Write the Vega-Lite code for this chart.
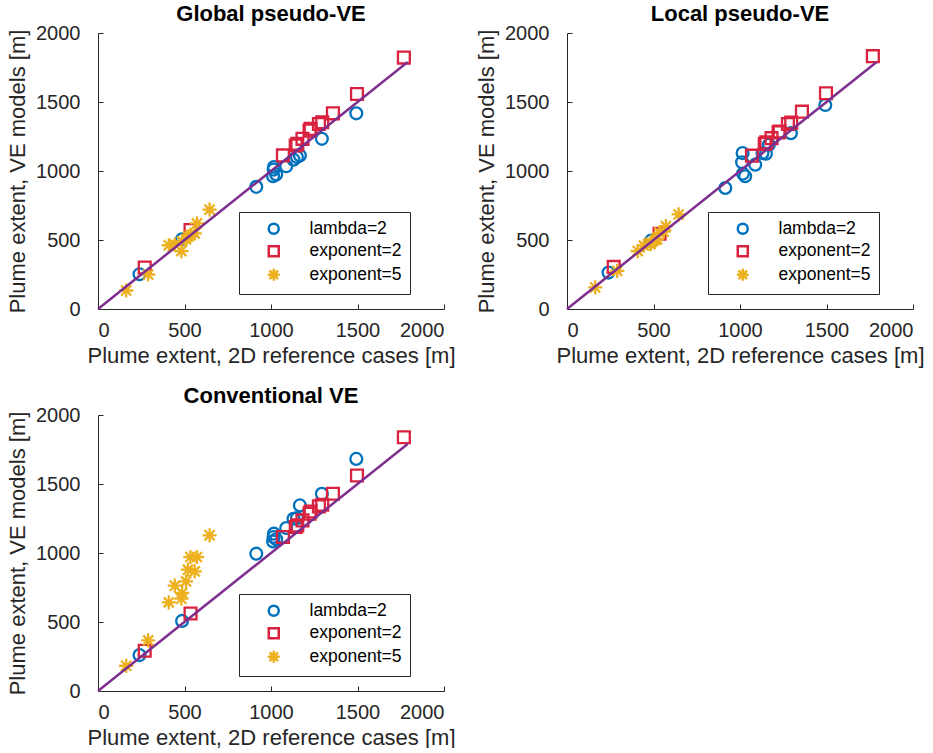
{
  "$schema": "https://vega.github.io/schema/vega-lite/v6.json",
  "background": "white",
  "padding": {"top": 3, "left": 6, "right": 5, "bottom": 0},
  "config": {
    "font": "Liberation Sans",
    "view": {"stroke": null},
    "axis": {"grid": false, "domainColor": "#262626", "tickColor": "#262626", "labelColor": "#262626", "titleColor": "#262626", "labelFontSize": 20, "titleFontSize": 22, "titleFontWeight": "normal", "tickSize": -5, "domainWidth": 1, "labelFont": "Liberation Sans", "titleFont": "Liberation Sans", "format": "d"},
    "axisX": {"labelPadding": 16, "titlePadding": 5},
    "axisY": {"labelPadding": 23, "titlePadding": 6},
    "title": {"fontSize": 22, "fontWeight": "bold", "offset": -3, "color": "black", "font": "Liberation Sans"},
    "legend": {"orient": "none", "legendX": 141, "legendY": 179, "strokeColor": "#262626", "fillColor": "white", "padding": 8, "labelFontSize": 17.5, "labelColor": "black", "symbolOffset": 18, "labelOffset": 27, "rowPadding": 1.5, "symbolStrokeWidth": 2.5, "symbolSize": 100, "title": null, "labelFont": "Liberation Sans"}
  },
  "datasets": {
    "line": [{"x": 0, "y": 0}, {"x": 1790, "y": 1790}],
    "pts": [
      {"p": "Global", "s": "lambda=2", "x": 240, "y": 252},
      {"p": "Global", "s": "lambda=2", "x": 486, "y": 505},
      {"p": "Global", "s": "lambda=2", "x": 915, "y": 885},
      {"p": "Global", "s": "lambda=2", "x": 1012, "y": 962},
      {"p": "Global", "s": "lambda=2", "x": 1015, "y": 1010},
      {"p": "Global", "s": "lambda=2", "x": 1017, "y": 1029},
      {"p": "Global", "s": "lambda=2", "x": 1030, "y": 975},
      {"p": "Global", "s": "lambda=2", "x": 1088, "y": 1034},
      {"p": "Global", "s": "lambda=2", "x": 1130, "y": 1082},
      {"p": "Global", "s": "lambda=2", "x": 1150, "y": 1101},
      {"p": "Global", "s": "lambda=2", "x": 1167, "y": 1113},
      {"p": "Global", "s": "lambda=2", "x": 1294, "y": 1233},
      {"p": "Global", "s": "lambda=2", "x": 1493, "y": 1418},
      {"p": "Global", "s": "exponent=2", "x": 270, "y": 300},
      {"p": "Global", "s": "exponent=2", "x": 535, "y": 572},
      {"p": "Global", "s": "exponent=2", "x": 1069, "y": 1113},
      {"p": "Global", "s": "exponent=2", "x": 1143, "y": 1185},
      {"p": "Global", "s": "exponent=2", "x": 1152, "y": 1197},
      {"p": "Global", "s": "exponent=2", "x": 1182, "y": 1233},
      {"p": "Global", "s": "exponent=2", "x": 1223, "y": 1293},
      {"p": "Global", "s": "exponent=2", "x": 1229, "y": 1305},
      {"p": "Global", "s": "exponent=2", "x": 1277, "y": 1341},
      {"p": "Global", "s": "exponent=2", "x": 1296, "y": 1353},
      {"p": "Global", "s": "exponent=2", "x": 1358, "y": 1418},
      {"p": "Global", "s": "exponent=2", "x": 1497, "y": 1558},
      {"p": "Global", "s": "exponent=2", "x": 1768, "y": 1822},
      {"p": "Global", "s": "exponent=5", "x": 163, "y": 134},
      {"p": "Global", "s": "exponent=5", "x": 290, "y": 250},
      {"p": "Global", "s": "exponent=5", "x": 409, "y": 462},
      {"p": "Global", "s": "exponent=5", "x": 444, "y": 466},
      {"p": "Global", "s": "exponent=5", "x": 482, "y": 420},
      {"p": "Global", "s": "exponent=5", "x": 486, "y": 490},
      {"p": "Global", "s": "exponent=5", "x": 509, "y": 505},
      {"p": "Global", "s": "exponent=5", "x": 520, "y": 524},
      {"p": "Global", "s": "exponent=5", "x": 534, "y": 536},
      {"p": "Global", "s": "exponent=5", "x": 559, "y": 548},
      {"p": "Global", "s": "exponent=5", "x": 572, "y": 620},
      {"p": "Global", "s": "exponent=5", "x": 645, "y": 720},
      {"p": "Local", "s": "lambda=2", "x": 240, "y": 264},
      {"p": "Local", "s": "lambda=2", "x": 486, "y": 495},
      {"p": "Local", "s": "lambda=2", "x": 915, "y": 877},
      {"p": "Local", "s": "lambda=2", "x": 1012, "y": 1063},
      {"p": "Local", "s": "lambda=2", "x": 1015, "y": 1130},
      {"p": "Local", "s": "lambda=2", "x": 1017, "y": 981},
      {"p": "Local", "s": "lambda=2", "x": 1030, "y": 962},
      {"p": "Local", "s": "lambda=2", "x": 1088, "y": 1046},
      {"p": "Local", "s": "lambda=2", "x": 1130, "y": 1130},
      {"p": "Local", "s": "lambda=2", "x": 1150, "y": 1125},
      {"p": "Local", "s": "lambda=2", "x": 1167, "y": 1190},
      {"p": "Local", "s": "lambda=2", "x": 1294, "y": 1274},
      {"p": "Local", "s": "lambda=2", "x": 1493, "y": 1478},
      {"p": "Local", "s": "exponent=2", "x": 270, "y": 305},
      {"p": "Local", "s": "exponent=2", "x": 535, "y": 545},
      {"p": "Local", "s": "exponent=2", "x": 1069, "y": 1111},
      {"p": "Local", "s": "exponent=2", "x": 1143, "y": 1197},
      {"p": "Local", "s": "exponent=2", "x": 1152, "y": 1207},
      {"p": "Local", "s": "exponent=2", "x": 1182, "y": 1238},
      {"p": "Local", "s": "exponent=2", "x": 1223, "y": 1280},
      {"p": "Local", "s": "exponent=2", "x": 1229, "y": 1286},
      {"p": "Local", "s": "exponent=2", "x": 1277, "y": 1341},
      {"p": "Local", "s": "exponent=2", "x": 1296, "y": 1351},
      {"p": "Local", "s": "exponent=2", "x": 1358, "y": 1430},
      {"p": "Local", "s": "exponent=2", "x": 1497, "y": 1563},
      {"p": "Local", "s": "exponent=2", "x": 1768, "y": 1832},
      {"p": "Local", "s": "exponent=5", "x": 163, "y": 156},
      {"p": "Local", "s": "exponent=5", "x": 290, "y": 276},
      {"p": "Local", "s": "exponent=5", "x": 409, "y": 420},
      {"p": "Local", "s": "exponent=5", "x": 444, "y": 460},
      {"p": "Local", "s": "exponent=5", "x": 482, "y": 470},
      {"p": "Local", "s": "exponent=5", "x": 486, "y": 481},
      {"p": "Local", "s": "exponent=5", "x": 509, "y": 500},
      {"p": "Local", "s": "exponent=5", "x": 520, "y": 505},
      {"p": "Local", "s": "exponent=5", "x": 534, "y": 553},
      {"p": "Local", "s": "exponent=5", "x": 559, "y": 560},
      {"p": "Local", "s": "exponent=5", "x": 572, "y": 600},
      {"p": "Local", "s": "exponent=5", "x": 645, "y": 685},
      {"p": "Conventional", "s": "lambda=2", "x": 240, "y": 260},
      {"p": "Conventional", "s": "lambda=2", "x": 486, "y": 508},
      {"p": "Conventional", "s": "lambda=2", "x": 915, "y": 995},
      {"p": "Conventional", "s": "lambda=2", "x": 1012, "y": 1084},
      {"p": "Conventional", "s": "lambda=2", "x": 1015, "y": 1116},
      {"p": "Conventional", "s": "lambda=2", "x": 1017, "y": 1140},
      {"p": "Conventional", "s": "lambda=2", "x": 1030, "y": 1100},
      {"p": "Conventional", "s": "lambda=2", "x": 1088, "y": 1181},
      {"p": "Conventional", "s": "lambda=2", "x": 1130, "y": 1248},
      {"p": "Conventional", "s": "lambda=2", "x": 1150, "y": 1253},
      {"p": "Conventional", "s": "lambda=2", "x": 1167, "y": 1345},
      {"p": "Conventional", "s": "lambda=2", "x": 1294, "y": 1429},
      {"p": "Conventional", "s": "lambda=2", "x": 1493, "y": 1682},
      {"p": "Conventional", "s": "exponent=2", "x": 270, "y": 292},
      {"p": "Conventional", "s": "exponent=2", "x": 535, "y": 562},
      {"p": "Conventional", "s": "exponent=2", "x": 1069, "y": 1116},
      {"p": "Conventional", "s": "exponent=2", "x": 1143, "y": 1188},
      {"p": "Conventional", "s": "exponent=2", "x": 1152, "y": 1200},
      {"p": "Conventional", "s": "exponent=2", "x": 1182, "y": 1236},
      {"p": "Conventional", "s": "exponent=2", "x": 1223, "y": 1285},
      {"p": "Conventional", "s": "exponent=2", "x": 1229, "y": 1301},
      {"p": "Conventional", "s": "exponent=2", "x": 1277, "y": 1338},
      {"p": "Conventional", "s": "exponent=2", "x": 1296, "y": 1350},
      {"p": "Conventional", "s": "exponent=2", "x": 1358, "y": 1429},
      {"p": "Conventional", "s": "exponent=2", "x": 1497, "y": 1562},
      {"p": "Conventional", "s": "exponent=2", "x": 1768, "y": 1839},
      {"p": "Conventional", "s": "exponent=5", "x": 163, "y": 183},
      {"p": "Conventional", "s": "exponent=5", "x": 290, "y": 367},
      {"p": "Conventional", "s": "exponent=5", "x": 409, "y": 642},
      {"p": "Conventional", "s": "exponent=5", "x": 444, "y": 763},
      {"p": "Conventional", "s": "exponent=5", "x": 482, "y": 669},
      {"p": "Conventional", "s": "exponent=5", "x": 486, "y": 710},
      {"p": "Conventional", "s": "exponent=5", "x": 509, "y": 794},
      {"p": "Conventional", "s": "exponent=5", "x": 520, "y": 879},
      {"p": "Conventional", "s": "exponent=5", "x": 534, "y": 971},
      {"p": "Conventional", "s": "exponent=5", "x": 559, "y": 867},
      {"p": "Conventional", "s": "exponent=5", "x": 572, "y": 971},
      {"p": "Conventional", "s": "exponent=5", "x": 645, "y": 1128}
    ]
  },
  "columns": 2,
  "spacing": {"row": 19, "column": 19},
  "resolve": {"scale": {"color": "independent", "shape": "independent"}},
  "concat": [
    {
      "title": "Global pseudo-VE",
      "width": 346, "height": 276,
      "layer": [
        {
          "data": {"name": "pts"},
          "transform": [{"filter": "datum.p === 'Global'"}],
          "mark": {"type": "point", "filled": false, "strokeWidth": 2.3, "size": 140, "opacity": 1},
          "encoding": {
            "x": {"field": "x", "type": "quantitative", "scale": {"domain": [0, 2000], "nice": false}, "axis": {"values": [0, 500, 1000, 1500, 2000], "title": "Plume extent, 2D reference cases [m]"}},
            "y": {"field": "y", "type": "quantitative", "scale": {"domain": [0, 2000], "nice": false}, "axis": {"values": [0, 500, 1000, 1500, 2000], "title": "Plume extent, VE models [m]"}},
            "color": {"field": "s", "type": "nominal", "scale": {"domain": ["lambda=2", "exponent=2", "exponent=5"], "range": ["#0072BD", "#D9223F", "#EDB120"]}, "legend": {"labelExpr": "datum.label + '      '"}},
            "shape": {"field": "s", "type": "nominal", "scale": {"domain": ["lambda=2", "exponent=2", "exponent=5"], "range": ["circle", "square", "M0,-1.2L0,1.2M-1.2,0L1.2,0M-0.85,-0.85L0.85,0.85M-0.85,0.85L0.85,-0.85"]}, "legend": {"labelExpr": "datum.label + '      '"}}
          }
        },
        {
          "data": {"name": "line"},
          "mark": {"type": "line", "color": "#7E2F8E", "strokeWidth": 2.5},
          "encoding": {
            "x": {"field": "x", "type": "quantitative"},
            "y": {"field": "y", "type": "quantitative"}
          }
        }
      ]
    },
    {
      "title": "Local pseudo-VE",
      "width": 346, "height": 276,
      "layer": [
        {
          "data": {"name": "pts"},
          "transform": [{"filter": "datum.p === 'Local'"}],
          "mark": {"type": "point", "filled": false, "strokeWidth": 2.3, "size": 140, "opacity": 1},
          "encoding": {
            "x": {"field": "x", "type": "quantitative", "scale": {"domain": [0, 2000], "nice": false}, "axis": {"values": [0, 500, 1000, 1500, 2000], "title": "Plume extent, 2D reference cases [m]"}},
            "y": {"field": "y", "type": "quantitative", "scale": {"domain": [0, 2000], "nice": false}, "axis": {"values": [0, 500, 1000, 1500, 2000], "title": "Plume extent, VE models [m]"}},
            "color": {"field": "s", "type": "nominal", "scale": {"domain": ["lambda=2", "exponent=2", "exponent=5"], "range": ["#0072BD", "#D9223F", "#EDB120"]}, "legend": {"labelExpr": "datum.label + '      '"}},
            "shape": {"field": "s", "type": "nominal", "scale": {"domain": ["lambda=2", "exponent=2", "exponent=5"], "range": ["circle", "square", "M0,-1.2L0,1.2M-1.2,0L1.2,0M-0.85,-0.85L0.85,0.85M-0.85,0.85L0.85,-0.85"]}, "legend": {"labelExpr": "datum.label + '      '"}}
          }
        },
        {
          "data": {"name": "line"},
          "mark": {"type": "line", "color": "#7E2F8E", "strokeWidth": 2.5},
          "encoding": {
            "x": {"field": "x", "type": "quantitative"},
            "y": {"field": "y", "type": "quantitative"}
          }
        }
      ]
    },
    {
      "title": "Conventional VE",
      "width": 346, "height": 276,
      "layer": [
        {
          "data": {"name": "pts"},
          "transform": [{"filter": "datum.p === 'Conventional'"}],
          "mark": {"type": "point", "filled": false, "strokeWidth": 2.3, "size": 140, "opacity": 1},
          "encoding": {
            "x": {"field": "x", "type": "quantitative", "scale": {"domain": [0, 2000], "nice": false}, "axis": {"values": [0, 500, 1000, 1500, 2000], "title": "Plume extent, 2D reference cases [m]"}},
            "y": {"field": "y", "type": "quantitative", "scale": {"domain": [0, 2000], "nice": false}, "axis": {"values": [0, 500, 1000, 1500, 2000], "title": "Plume extent, VE models [m]"}},
            "color": {"field": "s", "type": "nominal", "scale": {"domain": ["lambda=2", "exponent=2", "exponent=5"], "range": ["#0072BD", "#D9223F", "#EDB120"]}, "legend": {"labelExpr": "datum.label + '      '"}},
            "shape": {"field": "s", "type": "nominal", "scale": {"domain": ["lambda=2", "exponent=2", "exponent=5"], "range": ["circle", "square", "M0,-1.2L0,1.2M-1.2,0L1.2,0M-0.85,-0.85L0.85,0.85M-0.85,0.85L0.85,-0.85"]}, "legend": {"labelExpr": "datum.label + '      '"}}
          }
        },
        {
          "data": {"name": "line"},
          "mark": {"type": "line", "color": "#7E2F8E", "strokeWidth": 2.5},
          "encoding": {
            "x": {"field": "x", "type": "quantitative"},
            "y": {"field": "y", "type": "quantitative"}
          }
        }
      ]
    }
  ]
}
